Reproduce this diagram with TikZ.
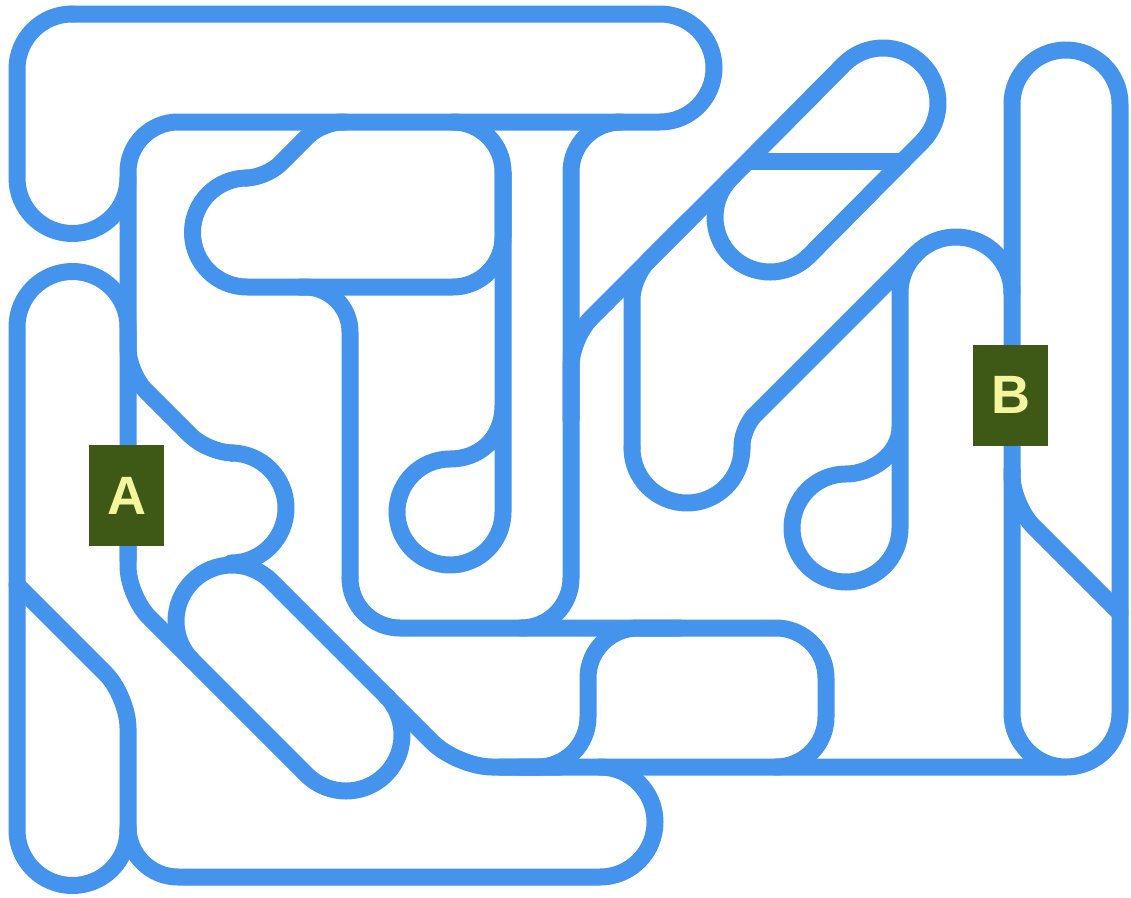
\documentclass[tikz,border=0pt]{standalone}
\usepackage{fontspec}
\setmainfont{Liberation Sans}
\definecolor{pipe}{RGB}{68,148,238}
\definecolor{boxg}{RGB}{62,88,22}
\definecolor{txt}{RGB}{245,245,160}
\begin{document}
\begin{tikzpicture}[x=1pt,y=-1pt,
  pipe/.style={draw=pipe,line width=17pt,line join=round,line cap=round},
  lbox/.style={fill=boxg,minimum width=75pt,minimum height=101pt,inner sep=0pt,text=txt,font=\fontsize{54}{54}\selectfont\bfseries}]
\fill[white] (0,0) rectangle (1131,897);
\useasboundingbox (0,0) rectangle (1131,897);
% top loop
\draw[pipe] (72,14) -- (660,14) arc[start angle=-90,end angle=90,radius=54] -- (178,122) arc[start angle=-90,end angle=-180,radius=50] -- (128,560);
\draw[pipe] (72,14) arc[start angle=270,end angle=180,radius=55] -- (17,178) arc[start angle=180,end angle=0,radius=55.5];
% left pill
\draw[pipe] (128,327) arc[start angle=0,end angle=-180,radius=55.5] -- (17,830) arc[start angle=180,end angle=0,radius=55.5];
\draw[pipe,rounded corners=32] (17,585) -- (128,696) -- (128,830);
% x=128 lower diagonal into pill
\draw[pipe,rounded corners=30] (128,540) -- (128,596.2) -- (192.4,660.6);
% bump
\draw[pipe,rounded corners=25] (128,330) -- (128,373) -- (208,453) -- (231,453);
\draw[pipe] (231,453) arc[start angle=-90,end angle=90,radius=55];
% slanted pill
\draw[pipe] (271.6,581.4) -- (385.6,695.4) arc[start angle=-45,end angle=135,radius=56] -- (192.4,660.6) arc[start angle=135,end angle=315,radius=56] -- cycle;
\draw[pipe,rounded corners=35] (385.6,695.4) -- (457.2,767) -- (560,767);
% bottom long line and right pill
\draw[pipe] (520,767) -- (1066,767) arc[start angle=90,end angle=0,radius=54] -- (1120,104) arc[start angle=0,end angle=-180,radius=54] -- (1012,713) arc[start angle=180,end angle=90,radius=54];
\draw[pipe,rounded corners=30] (1012,470) -- (1012,505) -- (1120,613);
% bottom shape
\draw[pipe] (600,767) arc[start angle=-90,end angle=90,radius=55] -- (178,877) arc[start angle=90,end angle=180,radius=50] -- (128,827);
% cloud
\draw[pipe,rounded corners=20] (345,122) -- (322,122) -- (266,178) -- (247,178);
\draw[pipe] (247,178) arc[start angle=270,end angle=90,radius=54.5] -- (453,287) arc[start angle=90,end angle=0,radius=50] -- (503,172) arc[start angle=0,end angle=-90,radius=50];
% drop 1
\draw[pipe] (503,172) -- (503,512) arc[start angle=0,end angle=270,radius=53] .. controls (478,459) and (503,440) .. (503,405);
% x=350 and y=628
\draw[pipe,rounded corners=45] (300,287) -- (350,287) -- (350,578);
\draw[pipe] (350,578) arc[start angle=180,end angle=90,radius=50] -- (776,628) arc[start angle=-90,end angle=0,radius=50] -- (826,717) arc[start angle=0,end angle=90,radius=50];
% x=571
\draw[pipe] (621,122) arc[start angle=-90,end angle=-180,radius=50] -- (571,578) arc[start angle=0,end angle=90,radius=50];
\draw[pipe,rounded corners=50] (680,628) -- (588,628) -- (588,767) -- (500,767);
% top right capsule
\draw[pipe] (844.1,64.1) arc[start angle=225,end angle=405,radius=55] -- (808.9,255.9) arc[start angle=45,end angle=225,radius=55] -- cycle;
\draw[pipe,rounded corners=28] (731.1,178.1) -- (571,338.2) -- (571,420);
\draw[pipe] (748.2,161) -- (902.8,161);
% U and L2
\draw[pipe,rounded corners=22] (690,219.2) -- (632,277.2) -- (632,448);
\draw[pipe] (632,448) arc[start angle=180,end angle=0,radius=55];
\draw[pipe,rounded corners=18] (742,448) -- (742,427.8) -- (916.4,253.4);
% drop 2
\draw[pipe] (1012,293) arc[start angle=0,end angle=-180,radius=56] -- (900,528) arc[start angle=0,end angle=270,radius=54] .. controls (870,474) and (900,455) .. (900,427);
% labels
\node[lbox] (A) at (126.5,495.5) {A};
\node[lbox] (B) at (1010.5,395) {B};
\end{tikzpicture}
\end{document}
